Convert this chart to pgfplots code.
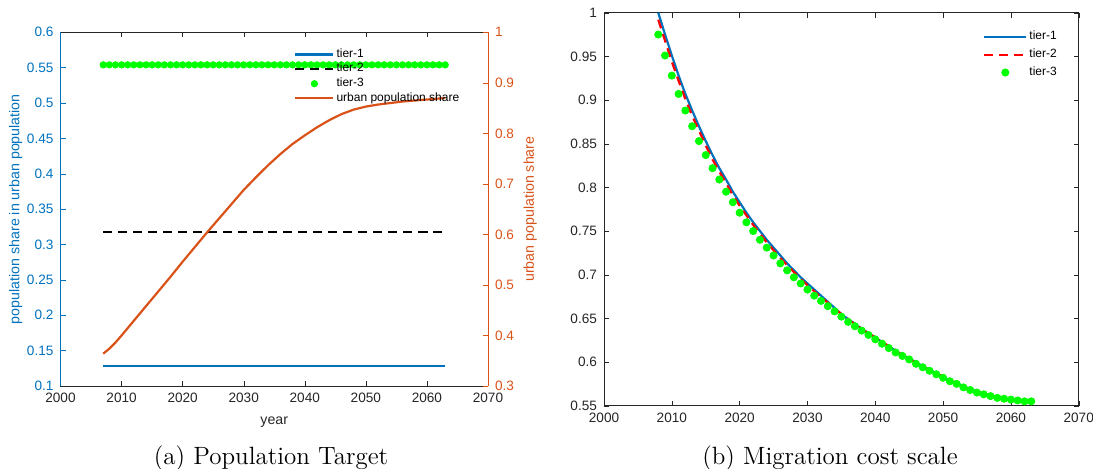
\documentclass[border=0pt]{standalone}
\usepackage{fontspec}
\usepackage{pgfplots}
\pgfplotsset{compat=1.18}
\usepackage{pgfplotstable}
\newfontfamily\hv{Liberation Sans}
\definecolor{mblue}{rgb}{0,0.447,0.741}
\definecolor{morange}{rgb}{0.85,0.325,0.098}
\definecolor{mgreen}{rgb}{0,1,0}
\definecolor{axgray}{rgb}{0.15,0.15,0.15}

% left panel: constant tier shares
\pgfplotstableread{
year t1 t2 t3
2007 0.128 0.318 0.554
2008 0.128 0.318 0.554
2009 0.128 0.318 0.554
2010 0.128 0.318 0.554
2011 0.128 0.318 0.554
2012 0.128 0.318 0.554
2013 0.128 0.318 0.554
2014 0.128 0.318 0.554
2015 0.128 0.318 0.554
2016 0.128 0.318 0.554
2017 0.128 0.318 0.554
2018 0.128 0.318 0.554
2019 0.128 0.318 0.554
2020 0.128 0.318 0.554
2021 0.128 0.318 0.554
2022 0.128 0.318 0.554
2023 0.128 0.318 0.554
2024 0.128 0.318 0.554
2025 0.128 0.318 0.554
2026 0.128 0.318 0.554
2027 0.128 0.318 0.554
2028 0.128 0.318 0.554
2029 0.128 0.318 0.554
2030 0.128 0.318 0.554
2031 0.128 0.318 0.554
2032 0.128 0.318 0.554
2033 0.128 0.318 0.554
2034 0.128 0.318 0.554
2035 0.128 0.318 0.554
2036 0.128 0.318 0.554
2037 0.128 0.318 0.554
2038 0.128 0.318 0.554
2039 0.128 0.318 0.554
2040 0.128 0.318 0.554
2041 0.128 0.318 0.554
2042 0.128 0.318 0.554
2043 0.128 0.318 0.554
2044 0.128 0.318 0.554
2045 0.128 0.318 0.554
2046 0.128 0.318 0.554
2047 0.128 0.318 0.554
2048 0.128 0.318 0.554
2049 0.128 0.318 0.554
2050 0.128 0.318 0.554
2051 0.128 0.318 0.554
2052 0.128 0.318 0.554
2053 0.128 0.318 0.554
2054 0.128 0.318 0.554
2055 0.128 0.318 0.554
2056 0.128 0.318 0.554
2057 0.128 0.318 0.554
2058 0.128 0.318 0.554
2059 0.128 0.318 0.554
2060 0.128 0.318 0.554
2061 0.128 0.318 0.554
2062 0.128 0.318 0.554
2063 0.128 0.318 0.554
}\poptable

\pgfplotstableread{
year u
2007 0.364
2008 0.374
2009 0.386
2010 0.400
2012 0.429
2014 0.458
2016 0.487
2018 0.516
2020 0.546
2022 0.575
2024 0.604
2026 0.632
2028 0.660
2030 0.688
2032 0.713
2034 0.737
2036 0.759
2038 0.779
2040 0.796
2042 0.812
2044 0.826
2046 0.838
2048 0.847
2050 0.853
2052 0.857
2054 0.860
2056 0.863
2058 0.865
2060 0.867
2062 0.869
2063 0.870
}\urbtable

% right panel: migration cost scale
\pgfplotstableread{
year t1 t2 t3
2008 1.000 0.992 0.975
2009 0.975 0.968 0.951
2010 0.951 0.944 0.928
2011 0.928 0.922 0.907
2012 0.907 0.901 0.888
2013 0.888 0.882 0.870
2014 0.870 0.865 0.853
2015 0.853 0.848 0.837
2016 0.837 0.832 0.822
2017 0.822 0.818 0.809
2018 0.809 0.805 0.795
2019 0.795 0.791 0.783
2020 0.783 0.779 0.771
2021 0.771 0.768 0.760
2022 0.760 0.757 0.750
2023 0.750 0.747 0.740
2024 0.740 0.737 0.731
2025 0.731 0.728 0.722
2026 0.722 0.719 0.713
2027 0.713 0.711 0.705
2028 0.705 0.703 0.697
2029 0.697 0.695 0.690
2030 0.690 0.688 0.683
2031 0.683 0.681 0.676
2032 0.676 0.674 0.670
2033 0.669 0.668 0.664
2034 0.662 0.661 0.658
2035 0.655 0.655 0.652
2036 0.649 0.649 0.646
2037 0.644 0.643 0.641
2038 0.638 0.638 0.636
2039 0.633 0.633 0.631
2040 0.628 0.628 0.626
2041 0.623 0.623 0.621
2042 0.618 0.618 0.616
2043 0.613 0.613 0.611
2044 0.608 0.608 0.607
2045 0.604 0.604 0.603
2046 0.600 0.599 0.598
2047 0.595 0.595 0.594
2048 0.591 0.591 0.590
2049 0.587 0.587 0.586
2050 0.583 0.583 0.582
2051 0.579 0.579 0.578
2052 0.576 0.576 0.575
2053 0.572 0.572 0.571
2054 0.569 0.569 0.568
2055 0.566 0.566 0.565
2056 0.564 0.564 0.563
2057 0.562 0.562 0.561
2058 0.560 0.560 0.559
2059 0.558 0.558 0.558
2060 0.557 0.557 0.557
2061 0.556 0.556 0.556
2062 0.555 0.555 0.555
2063 0.555 0.555 0.555
}\migtable

\pgfplotsset{
  common/.style={
    scale only axis,
    /pgf/number format/assume math mode=true,
    /pgf/number format/1000 sep={},
    /pgf/number format/fixed,
    /pgf/number format/precision=2,
    tick label style={font=\hv\fontsize{6.8}{7.5}\selectfont},
    label style={font=\hv\fontsize{7.1}{8}\selectfont},
    tick align=inside,
    major tick length=2.5pt,
    xmin=2000, xmax=2070,
    xtick={2000,2010,2020,2030,2040,2050,2060,2070},
    legend cell align=left,
    legend style={draw=none, fill=none, inner sep=0pt,
      font=\hv\fontsize{6}{6.5}\selectfont,
      nodes={inner sep=1pt, text height=4pt, text depth=1.3pt}},
  },
}

\begin{document}
\begin{tikzpicture}[x=1pt,y=1pt]
\useasboundingbox (0,0) rectangle (546.5,234);

% ---------- panel (a), left axis ----------
\begin{axis}[common,
  at={(30.25pt,41pt)}, anchor=south west,
  width=213.75pt, height=176.85pt,
  axis x line*=box, axis y line*=left,
  x axis line style={axgray},
  xtick style={axgray},
  xticklabel style={axgray},
  ymin=0.1, ymax=0.6,
  ytick={0.1,0.15,0.2,0.25,0.3,0.35,0.4,0.45,0.5,0.55,0.6},
  y axis line style={mblue},
  ytick style={mblue},
  yticklabel style={mblue},
  xlabel={year}, xlabel style={axgray},
  ylabel={population share in urban population}, ylabel style={mblue},
  ylabel shift=-4.5pt,
]
\addplot[mblue, line width=1.1pt] table[x=year, y=t1] {\poptable};
\addplot[black, line width=1.1pt, dash pattern=on 4.5pt off 3pt] table[x=year, y=t2] {\poptable};
\addplot[only marks, mark=*, mark size=1.6pt, mark options={draw=mgreen, fill=mgreen}] table[x=year, y=t3] {\poptable};
\end{axis}

% ---------- panel (a), right axis ----------
\begin{axis}[common,
  at={(30.25pt,41pt)}, anchor=south west,
  width=213.75pt, height=176.85pt,
  axis x line=none, axis y line*=right,
  ymin=0.3, ymax=1,
  ytick={0.3,0.4,0.5,0.6,0.7,0.8,0.9,1},
  y axis line style={morange},
  ytick style={morange},
  yticklabel style={morange},
  ylabel={urban population share}, ylabel style={morange},
  ylabel shift=-2pt,
  legend style={at={(0.546,0.959)}, anchor=north west},
  legend image code/.code={\draw[mark repeat=2,mark phase=2,#1] plot coordinates {(0pt,0pt) (9.5pt,0pt) (19pt,0pt)};},
]
\addlegendimage{mblue, line width=1.1pt}
\addlegendimage{black, line width=1.1pt, dash pattern=on 4.5pt off 3pt}
\addlegendimage{only marks, mark=*, mark size=1.6pt, mark options={draw=mgreen, fill=mgreen}}
\addplot[morange, line width=1.1pt] table[x=year, y=u] {\urbtable};
\legend{tier-1, tier-2, tier-3, urban population share}
\end{axis}

% ---------- panel (b) ----------
\begin{axis}[common,
  at={(302pt,31.15pt)}, anchor=south west,
  width=237.35pt, height=196.5pt,
  axis line style={axgray},
  tick style={axgray},
  ticklabel style={axgray},
  ymin=0.55, ymax=1,
  ytick={0.55,0.6,0.65,0.7,0.75,0.8,0.85,0.9,0.95,1},
  legend style={at={(0.798,0.958)}, anchor=north west, row sep=1.6pt},
  legend image code/.code={\draw[mark repeat=2,mark phase=2,#1] plot coordinates {(0pt,0pt) (10.5pt,0pt) (21pt,0pt)};},
]
\addplot[mblue, line width=1.1pt] table[x=year, y=t1] {\migtable};
\addplot[red, line width=1.1pt, dash pattern=on 4.5pt off 3pt] table[x=year, y=t2] {\migtable};
\addplot[only marks, mark=*, mark size=1.8pt, mark options={draw=mgreen, fill=mgreen}] table[x=year, y=t3] {\migtable};
\legend{tier-1, tier-2, tier-3}
\end{axis}

\node[anchor=base, font=\fontsize{12.5}{14}\selectfont] at (135.5pt,2pt) {(a)\ Population Target};
\node[anchor=base, font=\fontsize{12.5}{14}\selectfont] at (415pt,2pt) {(b)\ Migration cost scale};
\end{tikzpicture}
\end{document}
